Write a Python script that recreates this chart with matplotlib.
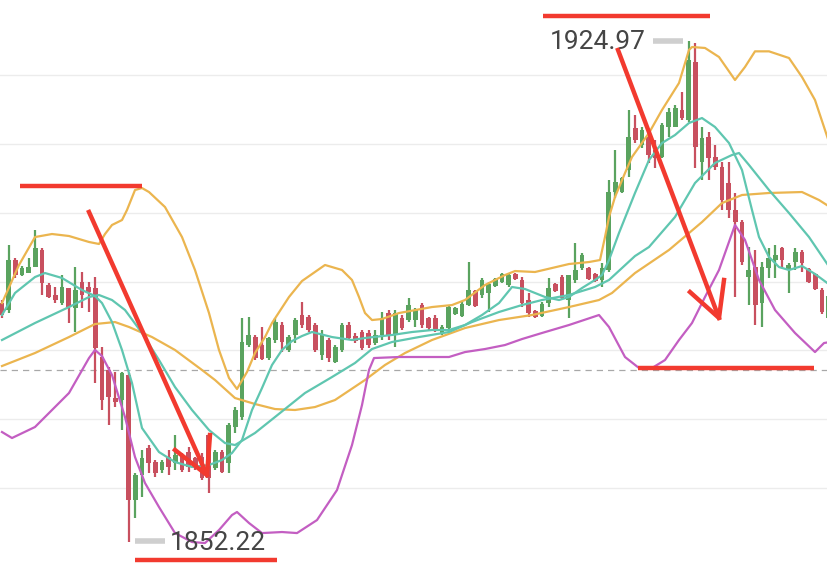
import matplotlib
matplotlib.use("Agg")
import matplotlib.pyplot as plt
import numpy as np

# ---------------- data ----------------
opens = [1886.9,1885.9,1893.1,1891.0,1891.2,1892.1,1894.6,1889.5,1888.0,1886.9,
         1889.0,1886.2,1889.9,1889.2,1889.0,1879.0,1877.1,1873.1,1872.8,1876.4,
         1858.3,1861.9,1865.8,1863.8,1862.6,1864.5,1863.6,1864.8,1865.2,1864.4,
         1864.5,1867.7,1862.9,1865.2,1863.6,1868.9,1870.3,1880.8,1881.9,1880.8,
         1878.9,1881.5,1883.7,1880.0,1882.2,1885.1,1884.8,1883.7,1879.3,1881.5,
         1878.3,1880.0,1883.7,1882.1,1882.7,1882.5,1881.1,1882.2,1885.4,1882.2,
         1884.7,1884.4,1884.4,1886.6,1884.7,1884.7,1882.5,1883.2,1885.3,1885.0,
         1886.6,1888.6,1888.0,1888.3,1889.3,1889.9,1889.5,1891.1,1890.2,1887.3,
         1885.7,1885.0,1886.9,1889.6,1890.7,1887.3,1890.2,1892.0,1892.0,1891.1,
         1890.2,1891.7,1903.0,1903.0,1906.2,1912.3,1909.8,1911.0,1909.1,1908.1,
         1912.5,1912.5,1914.9,1913.5,1921.9,1907.4,1911.0,1908.1,1906.6,1904.3,
         1900.4,1898.6,1890.7,1892.1,1886.9,1892.0,1893.1,1894.9,1891.7,1892.8,
         1894.3,1891.8,1891.1,1888.8,1884.7]
highs = [1887.3,1895.3,1893.4,1892.2,1893.4,1897.5,1894.9,1889.8,1889.2,1890.9,
         1889.1,1892.1,1891.4,1889.9,1890.6,1880.5,1877.6,1876.9,1876.9,1876.7,
         1862.2,1865.5,1866.2,1864.1,1864.1,1865.5,1867.7,1865.1,1866.0,1864.5,
         1865.1,1867.9,1865.5,1865.5,1869.4,1871.8,1884.7,1884.8,1882.2,1883.4,
         1881.9,1884.7,1884.1,1882.2,1884.7,1887.0,1885.1,1884.0,1883.0,1881.8,
         1880.8,1884.0,1884.1,1882.5,1883.0,1883.0,1883.0,1885.6,1885.9,1885.9,
         1885.1,1887.6,1886.2,1886.9,1884.8,1885.1,1883.7,1886.6,1886.3,1887.0,
         1892.8,1888.8,1890.5,1890.0,1890.5,1891.2,1891.2,1891.2,1890.7,1888.3,
         1885.9,1887.0,1890.5,1889.8,1890.9,1891.0,1895.6,1894.1,1892.1,1891.2,
         1892.7,1904.7,1909.1,1905.2,1914.9,1914.2,1912.5,1912.0,1910.6,1913.0,
         1915.2,1915.6,1917.5,1924.97,1924.6,1912.5,1911.7,1909.8,1907.4,1907.4,
         1902.9,1898.9,1895.0,1894.6,1892.8,1894.9,1895.3,1895.0,1892.7,1894.9,
         1894.6,1892.0,1891.2,1889.0,1888.3]
lows = [1884.7,1885.4,1890.5,1890.8,1891.2,1892.1,1888.0,1887.6,1886.9,1886.6,
        1884.0,1882.7,1886.2,1885.6,1875.3,1871.3,1869.2,1871.8,1868.4,1852.22,
        1855.6,1858.7,1862.2,1861.6,1862.2,1861.9,1862.6,1862.3,1862.3,1862.6,
        1861.2,1859.3,1862.6,1862.2,1862.2,1868.0,1869.9,1880.5,1878.6,1878.6,
        1878.6,1881.1,1879.8,1879.8,1881.1,1883.2,1882.7,1879.8,1878.6,1878.3,
        1878.2,1879.8,1881.5,1881.1,1880.1,1880.3,1880.8,1881.5,1881.5,1880.5,
        1882.9,1884.1,1883.4,1883.2,1882.9,1882.7,1882.2,1882.7,1885.1,1884.8,
        1886.4,1886.3,1887.6,1885.6,1889.2,1889.8,1889.2,1890.2,1886.3,1884.8,
        1884.7,1884.8,1886.3,1888.5,1887.3,1884.7,1889.8,1891.7,1890.2,1889.9,
        1889.2,1891.4,1902.1,1902.9,1905.2,1910.1,1909.4,1907.2,1906.5,1907.9,
        1911.0,1912.4,1913.5,1913.2,1906.5,1904.8,1904.8,1906.2,1900.4,1899.2,
        1887.8,1892.4,1886.6,1883.7,1883.4,1890.5,1890.5,1892.0,1888.3,1891.7,
        1891.4,1889.8,1888.8,1885.3,1884.7]
closes = [1885.1,1893.1,1890.9,1892.0,1892.1,1894.9,1889.8,1887.8,1887.3,1889.2,
          1886.3,1888.8,1888.0,1888.5,1880.3,1872.8,1873.2,1872.5,1876.7,1858.3,
          1861.9,1864.4,1863.6,1862.2,1863.8,1863.0,1864.8,1862.6,1863.0,1862.9,
          1861.5,1861.5,1865.2,1862.3,1869.2,1871.3,1881.2,1882.2,1878.9,1878.8,
          1881.8,1884.1,1881.2,1881.9,1884.4,1883.7,1883.0,1880.0,1882.2,1878.9,
          1880.5,1883.7,1881.8,1881.3,1880.3,1880.8,1882.2,1884.7,1882.1,1885.4,
          1883.2,1886.6,1885.9,1883.7,1883.2,1883.0,1883.4,1886.3,1886.2,1886.7,
          1888.8,1886.4,1890.2,1889.7,1890.4,1891.1,1890.9,1890.4,1886.9,1885.4,
          1884.8,1886.7,1889.1,1888.6,1887.6,1890.9,1891.7,1893.8,1890.4,1890.1,
          1892.0,1903.0,1904.5,1905.0,1911.0,1910.6,1912.0,1908.4,1907.9,1912.7,
          1914.6,1915.2,1913.8,1922.2,1909.5,1910.8,1907.9,1906.6,1901.8,1900.4,
          1898.6,1892.8,1891.7,1886.6,1892.1,1893.4,1893.8,1893.1,1892.4,1894.3,
          1892.7,1889.9,1888.9,1885.6,1887.9]

# indicator lines (x in bar index units, value in price)
upper_x = [0,2.55,4.95,7.5,10.05,13.05,14.55,15.45,16.5,18.0,18.75,19.95,21.0,22.05,24.45,27.0,
           28.95,31.05,32.55,34.05,35.25,36.75,37.95,39.45,40.5,43.05,45.0,48.45,51.0,52.5,53.55,
           54.45,55.5,57.0,59.55,64.5,67.5,69.45,72.45,75.45,76.95,79.95,85.05,88.05,89.7,90.45,
           91.05,91.95,93.45,94.5,97.05,99.0,101.55,103.05,103.5,105.45,107.55,109.95,111.45,
           112.95,115.05,118.05,120.0,121.95,123.45,124.2]
upper_y = [1886.87,1892.40,1896.46,1896.90,1896.61,1895.74,1895.45,1896.90,1898.21,1898.93,
           1900.39,1903.29,1903.58,1903.00,1900.82,1896.46,1891.67,1885.42,1880.05,1875.98,
           1874.38,1876.85,1879.61,1881.93,1883.97,1887.75,1890.07,1892.40,1891.67,1890.22,
           1887.75,1885.42,1884.40,1884.55,1885.42,1886.29,1886.58,1887.31,1889.49,1890.94,
           1891.52,1891.38,1892.54,1892.83,1893.12,1896.46,1899.37,1902.28,1905.76,1908.09,
           1911.58,1914.92,1918.84,1923.64,1924.07,1923.93,1922.62,1919.28,1921.17,1923.44,
           1923.44,1922.47,1919.71,1916.37,1912.01,1909.83]
mid_x = [0,4.95,10.05,13.95,16.95,19.05,22.5,25.95,30.0,31.95,34.95,37.95,40.95,43.95,46.95,
         49.95,54.45,57.45,60.45,64.5,69.45,74.55,79.5,85.05,89.55,91.5,94.95,100.05,105.0,
         108.0,111.0,115.05,120.0,122.55,124.2]
mid_y = [1877.72,1879.61,1881.93,1883.82,1884.11,1883.39,1881.93,1880.05,1877.14,1875.69,
         1873.07,1872.20,1871.47,1871.33,1871.76,1872.78,1875.69,1877.87,1879.61,1881.50,
         1883.24,1884.40,1885.13,1886.29,1887.31,1888.33,1891.23,1894.58,1898.64,1901.40,
         1902.57,1902.86,1903.00,1901.84,1900.82]
ma_fast_x = [0,1.95,4.95,6.45,9.0,12.0,13.95,15.0,16.5,18.0,19.5,21.0,23.55,25.95,28.5,31.05,
             33.0,34.5,36.0,37.5,39.0,40.5,42.0,43.5,45.0,46.5,49.5,52.5,54.45,58.5,61.5,64.5,
             67.05,69.45,72.0,74.55,76.5,78.45,81.45,83.55,85.05,87.0,88.95,90.0,91.05,92.55,
             94.95,97.05,99.0,100.95,103.05,105.0,106.95,109.05,111.0,112.5,113.55,115.05,
             116.55,118.05,120.0,121.95,124.2]
ma_fast_y = [1885.13,1888.33,1890.65,1891.23,1890.51,1888.76,1887.89,1886.87,1884.11,1880.05,
             1875.25,1868.71,1865.22,1863.77,1863.05,1863.34,1864.06,1865.08,1866.97,1871.33,
             1874.52,1877.87,1880.05,1881.35,1882.08,1882.66,1881.93,1881.50,1881.79,1882.23,
             1882.66,1882.95,1882.95,1883.68,1885.13,1886.87,1889.20,1888.91,1887.75,1887.31,
             1887.75,1889.05,1890.22,1890.94,1893.12,1897.05,1902.86,1907.65,1910.12,1911.28,
             1913.03,1913.75,1912.45,1910.12,1906.20,1900.39,1896.46,1893.56,1892.10,1891.67,
             1892.25,1891.09,1889.49]
ma_slow_x = [0,4.95,10.05,13.05,14.55,16.5,18.45,21.0,23.55,25.95,28.5,31.05,33.45,34.95,
             37.95,40.95,45.45,49.5,52.95,55.5,58.5,62.55,67.05,70.5,74.55,78.0,81.0,85.05,
             88.95,91.05,93.0,94.95,97.05,100.95,103.95,106.95,109.5,110.55,112.05,115.05,
             118.05,121.05,124.2]
ma_slow_y = [1881.50,1883.97,1886.29,1887.75,1888.04,1887.31,1885.86,1882.52,1878.59,1874.67,
             1871.33,1868.42,1866.53,1866.24,1867.99,1870.31,1873.80,1876.12,1878.16,1880.19,
             1881.21,1881.93,1882.66,1884.11,1885.57,1886.58,1887.31,1888.04,1889.20,1890.22,
             1891.96,1893.70,1895.01,1899.37,1904.31,1907.22,1908.38,1908.67,1906.93,1903.29,
             1899.95,1896.46,1891.96]
lower_x = [0,1.5,4.95,10.05,13.05,13.95,15.0,16.5,18.45,19.95,21.45,23.55,25.95,28.5,30.45,
           32.55,34.5,35.25,37.05,39.0,42.0,44.25,47.25,50.25,52.5,54.0,55.05,55.8,59.55,64.5,
           67.05,69.45,72.45,75.45,78.0,81.0,85.05,89.55,91.05,93.45,95.55,97.5,99.45,101.55,
           103.5,105.45,107.55,109.95,111.45,113.55,115.95,118.95,121.95,123.3,124.2]
lower_y = [1868.13,1867.26,1868.86,1873.80,1878.88,1880.05,1879.17,1876.41,1870.31,1864.50,
           1860.72,1857.23,1853.45,1852.15,1852.00,1853.89,1856.07,1856.51,1854.91,1853.45,
           1853.60,1853.45,1855.34,1859.70,1866.24,1872.05,1877.14,1878.88,1879.03,1879.03,
           1879.03,1879.75,1880.19,1880.77,1881.64,1882.52,1883.68,1885.13,1883.39,1879.03,
           1877.43,1877.43,1878.59,1881.50,1883.97,1887.75,1891.67,1898.21,1896.03,1890.22,
           1885.86,1882.52,1879.75,1881.06,1881.21]

high_label = "1924.97"
low_label = "1852.22"
last_price = 1877.14
grid_levels = [1860, 1870, 1880, 1890, 1900, 1910, 1920]

# ---------------- style ----------------
UP = "#5aa35f"
DOWN = "#c8505f"
GOLD = "#ebb54f"
TEAL = "#5fc6b0"
MAGENTA = "#c35ec2"
RED = "#f23a2f"

fig = plt.figure(figsize=(8.28, 5.82), dpi=100)
ax = fig.add_axes([0, 0, 1, 1])
ax.set_xlim(-0.3, 123.9)
ax.set_ylim(1846.34, 1930.90)
ax.axis("off")

for g in grid_levels:
    ax.axhline(g, color="#ececec", lw=1.0, zorder=0)
ax.axhline(last_price, color="#a8a8a8", lw=0.9, ls=(0, (5, 4)), zorder=1)

n = len(opens)
idx = np.arange(n)
o = np.array(opens); c = np.array(closes); h = np.array(highs); l = np.array(lows)
up = c >= o
cols = np.where(up, UP, DOWN)
ax.vlines(idx, l, h, colors=cols, lw=1.6, zorder=3)
bottom = np.minimum(o, c)
height = np.maximum(np.abs(c - o), 0.35)
ax.bar(idx, height, bottom=bottom, width=0.72, color=cols, linewidth=0, zorder=4)

lw = 1.6
ax.plot(mid_x, mid_y, color=GOLD, lw=lw, zorder=5)
ax.plot(upper_x, upper_y, color=GOLD, lw=lw, zorder=5)
ax.plot(lower_x, lower_y, color=MAGENTA, lw=lw, zorder=5)
ax.plot(ma_slow_x, ma_slow_y, color=TEAL, lw=lw, zorder=5)
ax.plot(ma_fast_x, ma_fast_y, color=TEAL, lw=lw, zorder=5)

# annotations
alw = 3.2
ax.plot([2.7, 21.0], [1903.87, 1903.87], color=RED, lw=alw, solid_capstyle="butt", zorder=8)
ax.plot([19.95, 41.25], [1849.53, 1849.53], color=RED, lw=alw, solid_capstyle="butt", zorder=8)
ax.plot([81.15, 106.2], [1928.58, 1928.58], color=RED, lw=alw, solid_capstyle="butt", zorder=8)
ax.plot([95.4, 121.8], [1877.43, 1877.43], color=RED, lw=alw, solid_capstyle="butt", zorder=8)

ax.plot([13.05, 30.75], [1900.10, 1861.88], color=RED, lw=alw, zorder=8)
ax.plot([25.95, 30.75, 31.2], [1865.52, 1861.88, 1867.69], color=RED, lw=alw, zorder=8)
ax.plot([92.4, 107.55], [1923.64, 1884.70], color=RED, lw=alw, zorder=8)
ax.plot([103.2, 107.55, 108.3], [1888.47, 1884.70, 1890.22], color=RED, lw=alw, zorder=8)

# price labels
ax.plot([97.6, 102.1], [1924.9, 1924.9], color="#cfcfcf", lw=4, solid_capstyle="butt", zorder=7)
ax.text(82.1, 1924.8, high_label, fontsize=19, family=["Roboto", "DejaVu Sans"],
        color="#454545", ha="left", va="center", zorder=9)
ax.plot([19.95, 24.45], [1852.3, 1852.3], color="#cfcfcf", lw=4, solid_capstyle="butt", zorder=7)
ax.text(25.1, 1852.0, low_label, fontsize=19, family=["Roboto", "DejaVu Sans"],
        color="#454545", ha="left", va="center", zorder=9)

fig.savefig("out.png", dpi=100, facecolor="white")
